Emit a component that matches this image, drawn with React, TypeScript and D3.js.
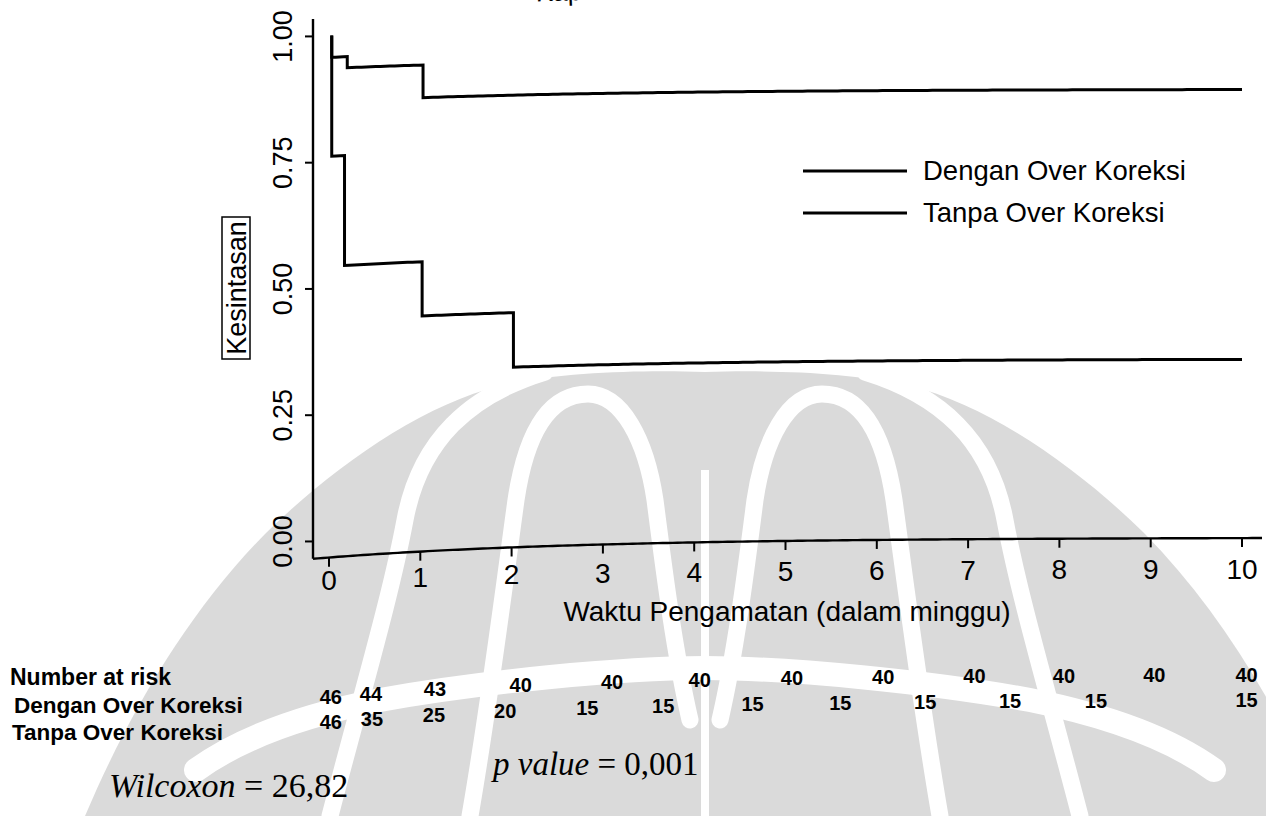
import * as d3 from "d3";

// Kaplan-Meier estimates (step after each event time)
const timesDengan = [0.03, 0.2, 1.03];
const survDengan = [0.957, 0.935, 0.87];
const timesTanpa = [0.03, 0.17, 1.02, 2.02];
const survTanpa = [0.761, 0.543, 0.435, 0.326];
const lastTime = 10;

const xTickValues = [0, 1, 2, 3, 4, 5, 6, 7, 8, 9, 10];
const yTickValues = [0, 0.25, 0.5, 0.75, 1];
const yTickLabels = ["0.00", "0.25", "0.50", "0.75", "1.00"];

const groupNames = ["Dengan Over Koreksi", "Tanpa Over Koreksi"];

// number at risk table (hand placed under the axis in the original)
const riskDengan = [46, 44, 43, 40, 40, 40, 40, 40, 40, 40, 40, 40];
const riskDenganAt = [0.02, 0.46, 1.16, 2.1, 3.1, 4.06, 5.07, 6.07, 7.07, 8.05, 9.04, 10.05];
const riskTanpa = [46, 35, 25, 20, 15, 15, 15, 15, 15, 15, 15, 15];
const riskTanpaAt = [0.02, 0.47, 1.15, 1.93, 2.83, 3.66, 4.64, 5.6, 6.53, 7.46, 8.4, 10.05];

const SANS = "'Liberation Sans', Arial, Helvetica, sans-serif";
const SERIF = "'Liberation Serif', 'Times New Roman', serif";

const W = 1266;
const H = 816;
const plotLeft = 313;
const plotRight = 1262;
const plotTop = 8;
const plotBottom = 538;

// faded university emblem behind the scan (left half, mirrored about markCx)
const markCx = 705;
const markShape =
  "M705 372 C640 370 560 372 500 386 C420 405 330 470 266 533 C190 610 130 710 85 816 L705 816 Z";
const markBands = [
  "M330 816 C360 700 390 600 405 520 C420 440 470 395 545 372",
  "M470 816 C490 700 505 580 516 500 C528 420 556 394 588 394 C622 394 646 440 655 500 C664 570 674 650 690 720",
];
const markSwoosh = "M705 668 C620 668 480 682 380 700 C300 716 240 738 196 770";

const x = d3.scaleLinear().domain([0, 10]).range([329, 1242]);
const y = d3.scaleLinear().domain([0, 1]).range([521, 25]);

// the scan is bent: the left part sags down, more so near the bottom
function bend(px: number) {
  const cx = Math.max(px, plotLeft);
  return Math.max(0, 20 * Math.exp(-(cx - 329) / 260) - 0.5);
}
function depth(py: number) {
  return 0.55 + (0.45 * (py - 25)) / 513;
}
function warp(p: [number, number], k = 1): [number, number] {
  return [p[0], p[1] + k * bend(p[0]) * depth(p[1])];
}
function densify(pts: [number, number][], step = 5): [number, number][] {
  const out: [number, number][] = [];
  for (let i = 0; i < pts.length - 1; i++) {
    const [x0, y0] = pts[i];
    const [x1, y1] = pts[i + 1];
    const n = Math.max(1, Math.ceil(Math.hypot(x1 - x0, y1 - y0) / step));
    for (let k = 0; k < n; k++) out.push([x0 + ((x1 - x0) * k) / n, y0 + ((y1 - y0) * k) / n]);
  }
  out.push(pts[pts.length - 1]);
  return out.map((p) => warp(p));
}

const line = d3.line<[number, number]>();

function stepPath(times: number[], surv: number[]) {
  const pts: [number, number][] = [];
  let s = 1;
  times.forEach((t, i) => {
    pts.push([x(t), y(s)]);
    s = surv[i];
    pts.push([x(t), y(s)]);
  });
  pts.push([x(lastTime), y(s)]);
  return line(densify(pts)) ?? "";
}

function at(px: number, py: number, k = 1) {
  const [wx, wy] = warp([px, py], k);
  return { x: wx, y: wy };
}

function MarkHalf() {
  return (
    <g>
      <path d={markShape} fill="#dadada" />
      {markBands.map((d) => (
        <path key={d} d={d} fill="none" stroke="#fff" strokeWidth={17} strokeLinecap="round" />
      ))}
      <path d={markSwoosh} fill="none" stroke="#fff" strokeWidth={24} strokeLinecap="round" />
    </g>
  );
}

export default function App() {
  const xAxisPath = line(densify([[plotLeft, plotBottom], [plotRight, plotBottom]])) ?? "";
  const yAxisPath = line(densify([[plotLeft, plotTop], [plotLeft, plotBottom]])) ?? "";
  const legendRows = [0, 1].map((i) => ({ name: groupNames[i], yy: 171 + i * 42 }));
  const riskRows = [
    { counts: riskDengan, times: riskDenganAt, yy: 682 },
    { counts: riskTanpa, times: riskTanpaAt, yy: 707 },
  ];
  const ylab = { x: 236, y: 288 };
  const xTitle = at(787, 618);

  return (
    <svg
      width={W}
      height={H}
      viewBox={`0 0 ${W} ${H}`}
      style={{ position: "absolute", left: 0, top: 0, background: "#fff" }}
    >
      <rect width={W} height={H} fill="#fff" />

      {/* watermark */}
      <g>
        <MarkHalf />
        <g transform={`translate(${2 * markCx} 0) scale(-1 1)`}>
          <MarkHalf />
        </g>
        <line x1={markCx} y1={470} x2={markCx} y2={H} stroke="#fff" strokeWidth={8} />
      </g>

      {/* title, mostly cut off by the top edge of the scan */}
      <text
        x={536}
        y={1.5}
        fontFamily={SANS}
        fontSize={26}
        fill="#000"
        transform="rotate(-2 536 1.5)"
      >
        Kaplan-Meier survival estimates
      </text>

      {/* axes */}
      <path d={yAxisPath} fill="none" stroke="#000" strokeWidth={2.4} />
      <path d={xAxisPath} fill="none" stroke="#000" strokeWidth={2.4} />

      {yTickValues.map((v, i) => {
        const a = at(plotLeft - 8, y(v));
        const b = at(plotLeft, y(v));
        const l = at(292, y(v));
        return (
          <g key={`y${v}`}>
            <line x1={a.x} y1={a.y} x2={b.x} y2={b.y} stroke="#000" strokeWidth={2} />
            <text
              x={l.x}
              y={l.y}
              transform={`rotate(-90 ${l.x} ${l.y})`}
              textAnchor="middle"
              fontFamily={SANS}
              fontSize={27}
              fill="#000"
            >
              {yTickLabels[i]}
            </text>
          </g>
        );
      })}

      {xTickValues.map((t) => {
        const a = at(x(t), plotBottom);
        const b = at(x(t), plotBottom + 9);
        const l = at(x(t), 579, 0.55);
        return (
          <g key={`x${t}`}>
            <line x1={a.x} y1={a.y} x2={b.x} y2={b.y} stroke="#000" strokeWidth={2} />
            <text x={l.x} y={l.y} textAnchor="middle" fontFamily={SANS} fontSize={28} fill="#000">
              {t}
            </text>
          </g>
        );
      })}

      {/* y title in a box */}
      <g transform={`rotate(-90 ${ylab.x} ${ylab.y})`}>
        <rect
          x={ylab.x - 71}
          y={ylab.y - 14}
          width={142}
          height={28}
          fill="#fff"
          stroke="#000"
          strokeWidth={1.5}
        />
        <text
          x={ylab.x}
          y={ylab.y + 10}
          textAnchor="middle"
          fontFamily={SANS}
          fontSize={27}
          fill="#000"
        >
          Kesintasan
        </text>
      </g>

      <text x={xTitle.x} y={xTitle.y} textAnchor="middle" fontFamily={SANS} fontSize={28} fill="#000">
        Waktu Pengamatan (dalam minggu)
      </text>

      {/* survival curves */}
      <path d={stepPath(timesDengan, survDengan)} fill="none" stroke="#000" strokeWidth={3} />
      <path d={stepPath(timesTanpa, survTanpa)} fill="none" stroke="#000" strokeWidth={3} />

      {/* legend */}
      {legendRows.map((r) => (
        <g key={r.name}>
          <line x1={803} y1={r.yy} x2={907} y2={r.yy} stroke="#000" strokeWidth={3} />
          <text x={923} y={r.yy + 9} fontFamily={SANS} fontSize={27.5} fill="#000">
            {r.name}
          </text>
        </g>
      ))}

      {/* number at risk */}
      <text x={10} y={685} fontFamily={SANS} fontWeight="bold" fontSize={23} fill="#000">
        Number at risk
      </text>
      <text x={14} y={713} fontFamily={SANS} fontWeight="bold" fontSize={22.5} fill="#000">
        {groupNames[0]}
      </text>
      <text x={12} y={740} fontFamily={SANS} fontWeight="bold" fontSize={22.5} fill="#000">
        {groupNames[1]}
      </text>
      {riskRows.map((row, ri) =>
        row.counts.map((c, i) => {
          const p = at(x(row.times[i]), row.yy);
          return (
            <text
              key={`r${ri}-${i}`}
              x={p.x}
              y={p.y}
              textAnchor="middle"
              fontFamily={SANS}
              fontWeight="bold"
              fontSize={20}
              fill="#000"
            >
              {c}
            </text>
          );
        })
      )}

      {/* test result */}
      <text x={109} y={797} fontFamily={SERIF} fontSize={34} fill="#000">
        <tspan fontStyle="italic">Wilcoxon</tspan>
        <tspan> = 26,82</tspan>
      </text>
      <text x={493} y={775} fontFamily={SERIF} fontSize={33} fill="#000">
        <tspan fontStyle="italic">p value</tspan>
        <tspan> = 0,001</tspan>
      </text>
    </svg>
  );
}
